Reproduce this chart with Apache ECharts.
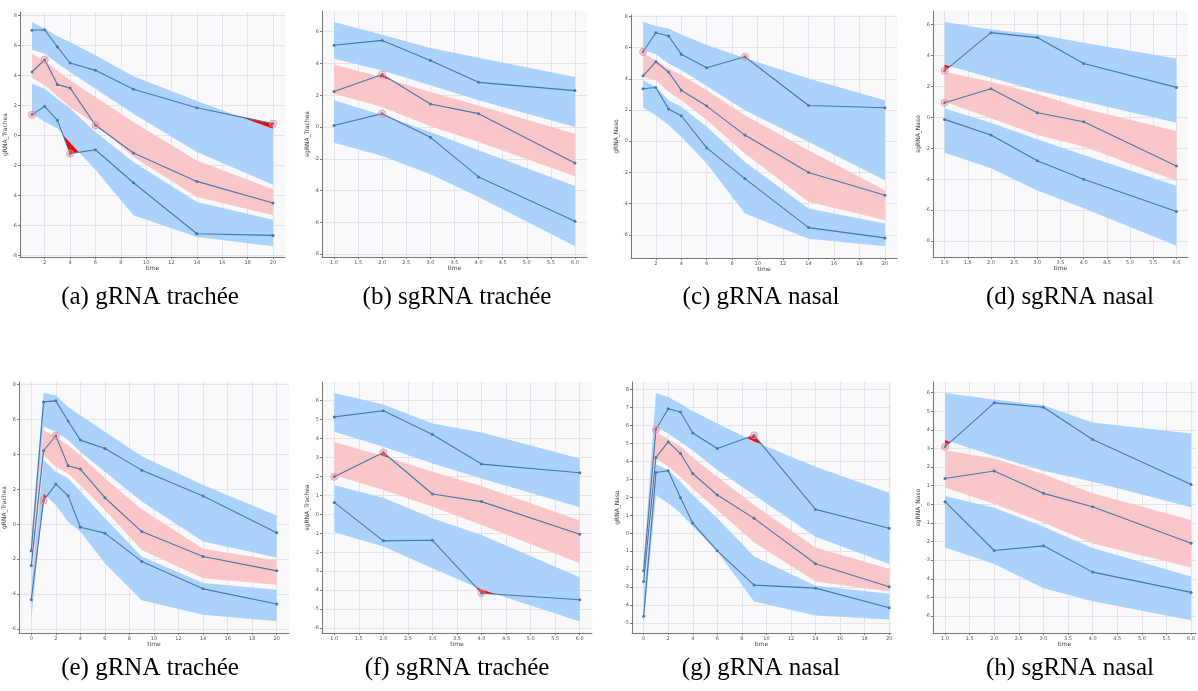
<!DOCTYPE html>
<html><head><meta charset="utf-8">
<script src="https://cdn.jsdelivr.net/npm/echarts@6/dist/echarts.min.js"></script>
<style>html,body{margin:0;padding:0;background:#fff}#c{width:1198px;height:691px}</style>
</head><body><div id="c"></div>
<script>
// ---------- DATA ----------
// (a) gRNA trachée
const a_time   = [1, 2, 3, 4, 6, 9, 14, 20];
const a_p90    = [7.0, 7.04, 5.89, 4.82, 4.33, 3.07, 1.84, 0.78];
const a_p50    = [4.22, 5.04, 3.38, 3.16, 0.67, -1.18, -3.07, -4.51];
const a_p10    = [1.38, 1.93, 1.0, -1.22, -0.96, -3.16, -6.56, -6.67];
const a_hiTop  = [7.56, 7.11, 6.6, 6.22, 5.33, 3.93, 2.29, 0.44];
const a_hiBot  = [5.71, 5.44, 4.8, 4.22, 3.11, 1.44, -1.11, -3.29];
const a_midTop = [5.44, 4.95, 4.3, 3.67, 2.56, 0.89, -1.67, -3.6];
const a_midBot = [3.84, 3.33, 2.6, 1.89, 0.75, -1.44, -4.11, -5.33];
const a_loTop  = [3.44, 3.11, 2.44, 1.78, 0.22, -1.78, -4.44, -5.62];
const a_loBot  = [1.45, 0.9, 0.45, -0.5, -2.3, -5.33, -6.78, -7.4];
// (b) sgRNA trachée
const b_time   = [1, 2, 3, 4, 6];
const b_p90    = [5.14, 5.45, 4.19, 2.81, 2.29];
const b_p50    = [2.24, 3.31, 1.45, 0.84, -2.26];
const b_p10    = [0.1, 0.84, -0.65, -3.14, -5.93];
const b_hiTop  = [6.6, 5.81, 4.97, 4.36, 3.14];
const b_hiBot  = [4.3, 3.56, 2.62, 1.68, 0.0];
const b_midTop = [3.94, 3.13, 2.2, 1.36, -0.42];
const b_midBot = [2.1, 1.26, 0.04, -0.94, -3.1];
const b_loTop  = [1.68, 0.76, -0.31, -1.47, -3.71];
const b_loBot  = [-0.99, -1.82, -2.98, -4.4, -7.5];
// (c) gRNA nasal
const c_time   = [1, 2, 3, 4, 6, 9, 14, 20];
const c_p90    = [5.73, 6.95, 6.74, 5.58, 4.71, 5.41, 2.29, 2.14];
const c_p50    = [4.19, 5.09, 4.43, 3.27, 2.25, 0.39, -2.01, -3.47];
const c_p10    = [3.36, 3.44, 2.07, 1.63, -0.43, -2.4, -5.54, -6.2];
const c_hiTop  = [7.66, 7.38, 7.23, 6.84, 6.16, 5.33, 4.02, 2.63];
const c_hiBot  = [5.88, 5.58, 4.98, 4.56, 3.53, 1.99, -0.04, -2.5];
const c_midTop = [5.63, 5.2, 4.66, 4.24, 3.27, 1.67, -0.58, -3.14];
const c_midBot = [4.1, 3.91, 3.17, 2.63, 1.35, -0.79, -3.89, -5.07];
const c_loTop  = [3.91, 3.49, 2.63, 2.2, 0.92, -1.33, -4.32, -5.28];
const c_loBot  = [2.16, 1.67, 1.03, 0.28, -1.43, -4.64, -6.25, -6.74];
// (d) sgRNA nasal
const d_time   = [1, 2, 3, 4, 6];
const d_p90    = [3.01, 5.48, 5.16, 3.48, 1.94];
const d_p50    = [0.95, 1.85, 0.3, -0.28, -3.14];
const d_p10    = [-0.13, -1.14, -2.8, -4.0, -6.09];
const d_hiTop  = [6.17, 5.68, 5.38, 4.82, 3.81];
const d_hiBot  = [3.4, 2.56, 1.72, 1.05, -0.34];
const d_midTop = [2.95, 2.3, 1.51, 0.58, -0.88];
const d_midBot = [1.01, -0.06, -1.14, -1.89, -4.11];
const d_loTop  = [0.58, -0.34, -1.42, -2.43, -4.43];
const d_loBot  = [-2.28, -3.29, -4.73, -5.87, -8.3];
// (e) gRNA trachée
const e_time   = [0, 1, 2, 3, 4, 6, 9, 14, 20];
const e_p90    = [-1.52, 7.01, 7.07, 5.92, 4.82, 4.34, 3.1, 1.62, -0.48];
const e_p50    = [-2.36, 4.21, 5.07, 3.35, 3.16, 1.52, -0.42, -1.85, -2.67];
const e_p10    = [-4.32, 1.35, 2.3, 1.64, -0.17, -0.51, -2.13, -3.7, -4.57];
const e_hiTop  = [-0.8, 7.52, 7.39, 6.72, 6.25, 5.3, 3.9, 2.25, 0.5];
const e_hiBot  = [-2.0, 5.58, 5.3, 4.82, 4.15, 3.01, 1.3, -0.99, -1.9];
const e_midTop = [-2.1, 5.39, 5.0, 4.53, 3.96, 2.63, 0.86, -1.41, -2.08];
const e_midBot = [-3.3, 3.96, 3.3, 2.91, 2.25, 0.82, -1.47, -3.09, -3.47];
const e_loTop  = [-3.5, 3.68, 3.01, 2.63, 1.87, 0.34, -1.85, -3.37, -3.75];
const e_loBot  = [-5.5, 1.75, 1.1, 0.15, -0.42, -2.23, -4.36, -5.18, -5.56];
// (f) sgRNA trachée
const f_time   = [1, 2, 3, 4, 6];
const f_p90    = [5.14, 5.46, 4.21, 2.65, 2.19];
const f_p50    = [1.98, 3.26, 1.07, 0.67, -1.05];
const f_p10    = [0.63, -1.4, -1.37, -4.16, -4.51];
const f_hiTop  = [6.4, 5.79, 4.79, 4.32, 2.95];
const f_hiBot  = [4.35, 3.56, 2.68, 1.89, 0.37];
const f_midTop = [3.82, 3.08, 2.25, 1.49, -0.33];
const f_midBot = [2.06, 1.28, 0.4, -0.56, -2.58];
const f_loTop  = [1.54, 0.88, -0.21, -1.09, -3.32];
const f_loBot  = [-0.95, -1.7, -2.84, -3.96, -5.65];
// (g) gRNA nasal
const g_time   = [0, 1, 2, 3, 4, 6, 9, 14, 20];
const g_p90    = [-2.09, 5.78, 6.94, 6.76, 5.59, 4.72, 5.46, 1.33, 0.28];
const g_p50    = [-2.69, 4.22, 5.09, 4.44, 3.33, 2.13, 0.83, -1.7, -2.98];
const g_p10    = [-4.63, 3.39, 3.48, 1.98, 0.56, -0.98, -2.89, -3.06, -4.15];
const g_hiTop  = [-1.6, 7.81, 7.59, 7.22, 6.81, 6.11, 5.12, 3.7, 2.26];
const g_hiBot  = [-2.4, 5.93, 5.56, 5.09, 4.63, 3.52, 2.13, -0.19, -1.72];
const g_midTop = [-2.5, 5.65, 5.24, 4.85, 4.22, 3.15, 1.57, -0.8, -1.98];
const g_midBot = [-3.0, 4.17, 3.7, 3.15, 2.5, 1.3, -0.52, -2.69, -3.24];
const g_loTop  = [-3.4, 3.85, 3.52, 2.87, 2.13, 0.83, -1.3, -2.93, -3.37];
const g_loBot  = [-5.0, 2.13, 1.67, 1.11, 0.37, -1.02, -3.8, -4.59, -4.81];
// (h) sgRNA nasal
const h_time   = [1, 2, 3, 4, 6];
const h_p90    = [3.09, 5.45, 5.21, 3.48, 1.07];
const h_p50    = [1.39, 1.79, 0.59, -0.13, -2.09];
const h_p10    = [0.14, -2.48, -2.23, -3.64, -4.73];
const h_hiTop  = [5.98, 5.63, 5.32, 4.39, 3.8];
const h_hiBot  = [3.45, 2.59, 1.8, 1.21, -0.16];
const h_midTop = [2.91, 2.46, 1.63, 0.59, -0.84];
const h_midBot = [0.91, 0.02, -0.98, -2.1, -3.39];
const h_loTop  = [0.45, -0.18, -1.2, -2.35, -3.88];
const h_loBot  = [-2.32, -3.2, -4.5, -5.21, -6.23];

// captions and axis names
const captions = ['(a) gRNA trachée', '(b) sgRNA trachée', '(c) gRNA nasal', '(d) sgRNA nasal',
                  '(e) gRNA trachée', '(f) sgRNA trachée', '(g) gRNA nasal', '(h) sgRNA nasal'];
const yNames = ['gRNA_Trachea', 'sgRNA_Trachea', 'gRNA_Naso', 'sgRNA_Naso',
                'gRNA_Trachea', 'sgRNA_Trachea', 'gRNA_Naso', 'sgRNA_Naso'];
const xTicksDays = [0, 2, 4, 6, 8, 10, 12, 14, 16, 18, 20];
const xTicksHalf = [1.0, 1.5, 2.0, 2.5, 3.0, 3.5, 4.0, 4.5, 5.0, 5.5, 6.0];
const yTicksBy2 = [-8, -6, -4, -2, 0, 2, 4, 6, 8];
const yTicksBy1 = [-7, -6, -5, -4, -3, -2, -1, 0, 1, 2, 3, 4, 5, 6, 7, 8];

// ---------- layout (positions / styles only) ----------
const panels = [
  {d:[a_time,a_p90,a_p50,a_p10,a_hiTop,a_hiBot,a_midTop,a_midBot,a_loTop,a_loBot], g:[20,12,265,245], xr:[0.05,20.95], yr:[-8.11,8.22], xt:xTicksDays, yt:yTicksBy2, half:false, cap:[150,297]},
  {d:[b_time,b_p90,b_p50,b_p10,b_hiTop,b_hiBot,b_midTop,b_midBot,b_loTop,b_loBot], g:[322,11,265,246], xr:[0.75,6.25], yr:[-8.18,7.3], xt:xTicksHalf, yt:yTicksBy2, half:true, cap:[457,297]},
  {d:[c_time,c_p90,c_p50,c_p10,c_hiTop,c_hiBot,c_midTop,c_midBot,c_loTop,c_loBot], g:[631,15,266,243], xr:[0.05,20.95], yr:[-7.49,8.09], xt:xTicksDays, yt:yTicksBy2, half:false, cap:[761,297]},
  {d:[d_time,d_p90,d_p50,d_p10,d_hiTop,d_hiBot,d_midTop,d_midBot,d_loTop,d_loBot], g:[933,11,255,246], xr:[0.75,6.25], yr:[-9.03,6.88], xt:xTicksHalf, yt:yTicksBy2, half:true, cap:[1070,297]},
  {d:[e_time,e_p90,e_p50,e_p10,e_hiTop,e_hiBot,e_midTop,e_midBot,e_loTop,e_loBot], g:[19,382,270,251], xr:[-1,21], yr:[-6.23,8.15], xt:xTicksDays, yt:yTicksBy2, half:false, cap:[150,668]},
  {d:[f_time,f_p90,f_p50,f_p10,f_hiTop,f_hiBot,f_midTop,f_midBot,f_loTop,f_loBot], g:[322,382,270,251], xr:[0.75,6.25], yr:[-6.26,6.98], xt:xTicksHalf, yt:yTicksBy1, half:true, cap:[457,668]},
  {d:[g_time,g_p90,g_p50,g_p10,g_hiTop,g_hiBot,g_midTop,g_midBot,g_loTop,g_loBot], g:[632,382,259,251], xr:[-0.95,20.15], yr:[-5.56,8.43], xt:xTicksDays, yt:yTicksBy1, half:false, cap:[761,668]},
  {d:[h_time,h_p90,h_p50,h_p10,h_hiTop,h_hiBot,h_midTop,h_midBot,h_loTop,h_loBot], g:[933,382,263,251], xr:[0.756,6.1], yr:[-6.91,6.57], xt:xTicksHalf, yt:yTicksBy1, half:true, cap:[1070,668]}
];

const BLUE = '#abd2fa', PINK = '#f9c7c9', LINE = '#4677a6', RED = '#ff0000';

function bandSeries(i, xs, top, bot, color) {
  return {
    type: 'custom', xAxisIndex: i, yAxisIndex: i, silent: true, z: 1,
    data: [[xs[0], top[0]]],
    renderItem: function (params, api) {
      const pts = [];
      for (let k = 0; k < xs.length; k++) pts.push(api.coord([xs[k], top[k]]));
      for (let k = xs.length - 1; k >= 0; k--) pts.push(api.coord([xs[k], bot[k]]));
      return { type: 'polygon', shape: { points: pts }, style: { fill: color } };
    }
  };
}

// regions where the observed line leaves its prediction band (sign +1: above top edge, -1: below bottom edge)
function outsidePolys(xs, obs, edge, sign) {
  const polys = [];
  for (let k = 0; k < xs.length - 1; k++) {
    const d0 = sign * (obs[k] - edge[k]), d1 = sign * (obs[k + 1] - edge[k + 1]);
    if (d0 <= 0 && d1 <= 0) continue;
    if (d0 > 0 && d1 > 0) {
      polys.push([[xs[k], obs[k]], [xs[k + 1], obs[k + 1]], [xs[k + 1], edge[k + 1]], [xs[k], edge[k]]]);
    } else {
      const f = d0 / (d0 - d1);
      const xc = xs[k] + f * (xs[k + 1] - xs[k]);
      const yc = obs[k] + f * (obs[k + 1] - obs[k]);
      if (d0 > 0) polys.push([[xs[k], obs[k]], [xc, yc], [xs[k], edge[k]]]);
      else polys.push([[xc, yc], [xs[k + 1], obs[k + 1]], [xs[k + 1], edge[k + 1]]]);
    }
  }
  return polys;
}

const grids = [], xAxes = [], yAxes = [], series = [], graphics = [];
panels.forEach(function (p, i) {
  const [t, p90, p50, p10, hiT, hiB, miT, miB, loT, loB] = p.d;
  grids.push({ left: p.g[0], top: p.g[1], width: p.g[2], height: p.g[3], show: true,
    backgroundColor: '#f9f9fc', borderWidth: 0, containLabel: false, outerBoundsMode: 'none' });
  const axisCommon = {
    gridIndex: i, type: 'value',
    axisLine: { show: true, onZero: false, lineStyle: { color: '#777', width: 1 } },
    axisTick: { show: true, length: 2, lineStyle: { color: '#777' } },
    splitLine: { show: true, lineStyle: { color: '#e3e3e8', width: 1 } },
    nameTextStyle: { fontSize: 6, color: '#444', fontFamily: 'DejaVu Sans' }
  };
  xAxes.push(Object.assign({}, axisCommon, {
    min: p.xr[0], max: p.xr[1], name: 'time', nameLocation: 'middle', nameGap: 8,
    axisTick: Object.assign({}, axisCommon.axisTick, { customValues: p.xt }),
    axisLabel: { fontSize: 5, color: '#555', margin: 3, customValues: p.xt, fontFamily: 'DejaVu Sans',
      formatter: function (v) { return p.half ? Number(v).toFixed(1) : String(v); } }
  }));
  yAxes.push(Object.assign({}, axisCommon, {
    min: p.yr[0], max: p.yr[1], name: yNames[i], nameLocation: 'middle', nameGap: 6, nameRotate: 90,
    axisTick: Object.assign({}, axisCommon.axisTick, { customValues: p.yt }),
    axisLabel: { fontSize: 5, color: '#555', margin: 3, customValues: p.yt, fontFamily: 'DejaVu Sans' }
  }));
  series.push(bandSeries(i, t, hiT, hiB, BLUE));
  series.push(bandSeries(i, t, miT, miB, PINK));
  series.push(bandSeries(i, t, loT, loB, BLUE));

  const polys = [].concat(
    outsidePolys(t, p90, hiT, 1), outsidePolys(t, p90, hiB, -1),
    outsidePolys(t, p50, miT, 1), outsidePolys(t, p50, miB, -1),
    outsidePolys(t, p10, loT, 1), outsidePolys(t, p10, loB, -1));
  if (polys.length) {
    series.push({
      type: 'custom', xAxisIndex: i, yAxisIndex: i, silent: true, z: 2,
      data: polys.map(function (pl) { return pl[0]; }),
      renderItem: function (params, api) {
        const pl = polys[params.dataIndex];
        return { type: 'polygon', shape: { points: pl.map(function (q) { return api.coord(q); }) }, style: { fill: RED } };
      }
    });
  }
  [p90, p50, p10].forEach(function (obs) {
    series.push({
      type: 'line', xAxisIndex: i, yAxisIndex: i, z: 3, silent: true, animation: false,
      data: t.map(function (x, k) { return [x, obs[k]]; }),
      lineStyle: { color: LINE, width: 1.1 }, itemStyle: { color: LINE },
      symbol: 'circle', symbolSize: 3, showSymbol: true
    });
  });
  // circles on observed points outside their band
  const out = [];
  t.forEach(function (x, k) {
    if (p90[k] > hiT[k] || p90[k] < hiB[k]) out.push([x, p90[k]]);
    if (p50[k] > miT[k] || p50[k] < miB[k]) out.push([x, p50[k]]);
    if (p10[k] > loT[k] || p10[k] < loB[k]) out.push([x, p10[k]]);
  });
  series.push({
    type: 'scatter', xAxisIndex: i, yAxisIndex: i, z: 4, silent: true, data: out,
    symbol: 'circle', symbolSize: 7,
    itemStyle: { color: 'rgba(240,130,140,0.35)', borderColor: '#ee8a94', borderWidth: 1 }
  });
  graphics.push({
    type: 'text', x: p.cap[0], y: p.cap[1], silent: true,
    style: { text: captions[i], font: '25px "Liberation Serif"', fill: '#000', align: 'center', verticalAlign: 'middle' }
  });
});

const chart = echarts.init(document.getElementById('c'), null, { renderer: 'canvas' });
chart.setOption({
  backgroundColor: '#ffffff',
  animation: false,
  grid: grids, xAxis: xAxes, yAxis: yAxes, series: series, graphic: graphics
});
</script></body></html>
